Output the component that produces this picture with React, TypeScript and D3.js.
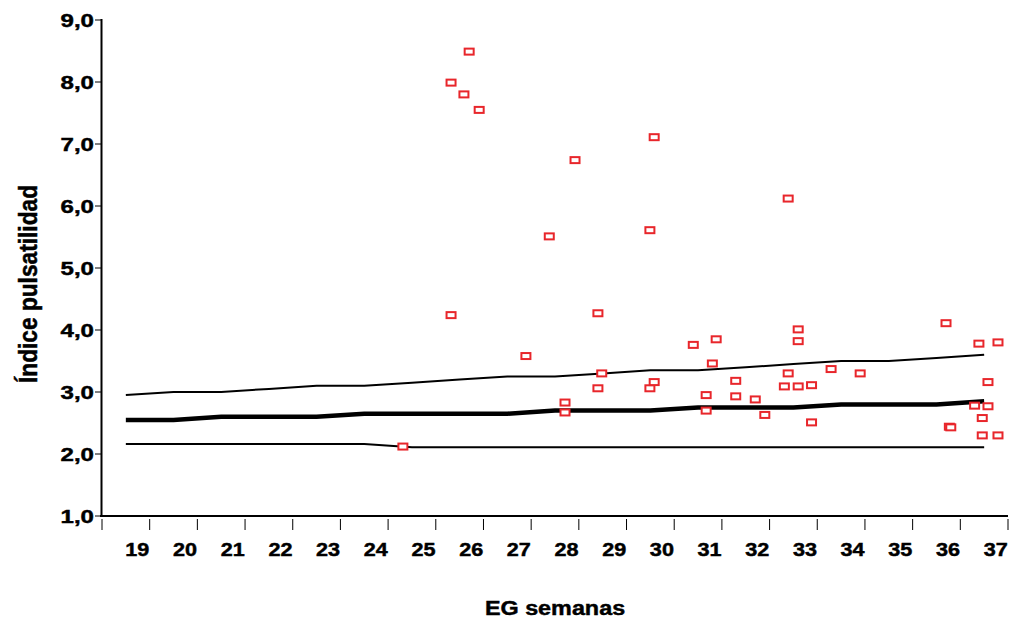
import React from "react";
import * as d3 from "d3";

const weeks = [19, 20, 21, 22, 23, 24, 25, 26, 27, 28, 29, 30, 31, 32, 33, 34, 35, 36, 37];
const upperLine = [2.95, 3.0, 3.0, 3.05, 3.1, 3.1, 3.15, 3.2, 3.25, 3.25, 3.3, 3.35, 3.35, 3.4, 3.45, 3.5, 3.5, 3.55, 3.6];
const medianLine = [2.55, 2.55, 2.6, 2.6, 2.6, 2.65, 2.65, 2.65, 2.65, 2.7, 2.7, 2.7, 2.75, 2.75, 2.75, 2.8, 2.8, 2.8, 2.85];
const lowerLine = [2.16, 2.16, 2.16, 2.16, 2.16, 2.16, 2.11, 2.11, 2.11, 2.11, 2.11, 2.11, 2.11, 2.11, 2.11, 2.11, 2.11, 2.11, 2.11];
const yTicks = [1, 2, 3, 4, 5, 6, 7, 8, 9];

const pointWeeks = [
  24.81, 25.82, 25.82, 26.09, 26.2, 26.41, 27.39, 27.88, 28.21, 28.21,
  28.42, 28.9, 28.98, 28.9, 29.99, 29.99, 30.08, 30.08, 30.9, 31.17,
  31.17, 31.3, 31.38, 31.79, 31.79, 32.2, 32.4, 32.81, 32.89, 32.89,
  33.1, 33.1, 33.1, 33.38, 33.38, 33.79, 34.4, 36.2, 36.27, 36.3,
  36.8, 36.89, 36.96, 36.96, 37.08, 37.08, 37.29, 37.29,
];
const pointValues = [
  2.12, 7.99, 4.24, 7.8, 8.49, 7.55, 3.58, 5.51, 2.83, 2.67,
  6.74, 4.27, 3.3, 3.06, 5.61, 3.06, 7.11, 3.16, 3.76, 2.95,
  2.7, 3.46, 3.85, 3.18, 2.93, 2.88, 2.63, 3.09, 3.3, 6.12,
  4.01, 3.82, 3.09, 3.11, 2.51, 3.37, 3.3, 4.11, 2.44, 2.43,
  2.78, 3.78, 2.58, 2.3, 3.16, 2.77, 3.8, 2.3,
];

const FONT = "'Liberation Sans', Arial, Helvetica, sans-serif";
const RED = "#e8262b";

export default function App() {
  const width = 1010;
  const height = 622;
  const x = d3.scaleLinear().domain([18.5, 37.5]).range([102, 1008]);
  const y = d3.scaleLinear().domain([1, 9]).range([516, 20]);

  const mkLine = (vals: number[]) =>
    d3
      .line<number>()
      .x((_, i) => x(weeks[i]))
      .y((d) => y(d))(vals) || "";

  const tickBounds = [...weeks.map((w) => w - 0.5), weeks[weeks.length - 1] + 0.5];

  const textStroke = { stroke: "#000", strokeWidth: 0.45 };

  return (
    <svg
      width={width}
      height={height}
      style={{ position: "absolute", left: 0, top: 0, display: "block", background: "#fff" }}
      fontFamily={FONT}
      fontWeight="bold"
    >
      <rect x={0} y={0} width={width} height={height} fill="#fff" />
      {/* y axis */}
      <line x1={101.5} x2={101.5} y1={y(9) - 1} y2={y(1) + 1} stroke="#000" strokeWidth={2} />
      {yTicks.map((t) => (
        <g key={t}>
          <line x1={95} x2={101} y1={y(t)} y2={y(t)} stroke="#000" strokeWidth={1} />
          <g transform={`translate(94, ${y(t)}) scale(1.3, 1)`}>
            <text x={0} y={0} dy="0.36em" textAnchor="end" fontSize={18.5} {...textStroke}>
              {d3.format(".1f")(t).replace(".", ",")}
            </text>
          </g>
        </g>
      ))}
      {/* x axis */}
      <line x1={100} x2={1008} y1={y(1)} y2={y(1)} stroke="#000" strokeWidth={2} />
      {tickBounds.map((b, i) => (
        <line key={i} x1={x(b)} x2={x(b)} y1={519} y2={530} stroke="#000" strokeWidth={1} />
      ))}
      {weeks.map((w) => (
        <g key={w} transform={`translate(${x(w) + 11.5}, 556) scale(1.2, 1)`}>
          <text x={0} y={0} textAnchor="middle" fontSize={18} {...textStroke}>
            {w}
          </text>
        </g>
      ))}
      {/* reference lines */}
      <path d={mkLine(upperLine)} fill="none" stroke="#000" strokeWidth={2} />
      <path d={mkLine(medianLine)} fill="none" stroke="#000" strokeWidth={4.5} />
      <path d={mkLine(lowerLine)} fill="none" stroke="#000" strokeWidth={2} />
      {/* points */}
      {pointWeeks.map((w, i) => (
        <rect
          key={i}
          x={x(w) - 4.5}
          y={y(pointValues[i]) - 3}
          width={9}
          height={6}
          fill="#fff"
          stroke={RED}
          strokeWidth={2}
        />
      ))}
      {/* titles */}
      <g transform="translate(555, 615) scale(1.14, 1)">
        <text x={0} y={0} textAnchor="middle" fontSize={20.5} {...textStroke}>
          EG semanas
        </text>
      </g>
      <g transform="translate(37, 284) rotate(-90) scale(1, 1.16)">
        <text x={0} y={0} textAnchor="middle" fontSize={22.7} {...textStroke}>
          Índice pulsatilidad
        </text>
      </g>
    </svg>
  );
}
